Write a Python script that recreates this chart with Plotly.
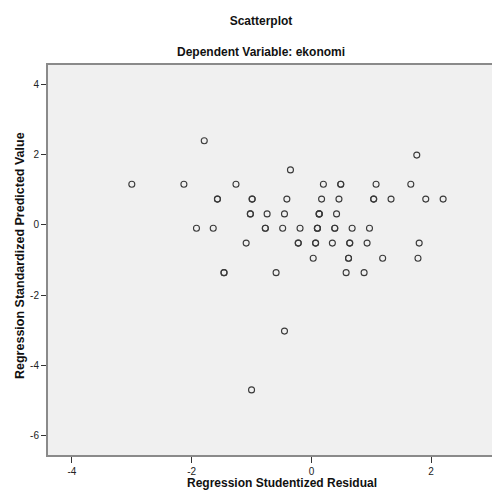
import plotly.graph_objects as go

# Regression Studentized Residual (x) and Regression Standardized Predicted Value (y)
x_resid = [
    -1.79,
    1.76,
    -0.35,
    -3.00, -2.13, -1.26, 0.20, 0.49, 0.49, 1.08, 1.66,
    -1.57, -1.57, -0.99, -0.99, -0.41, 0.17, 0.46, 1.04, 1.04, 1.33, 1.91, 2.20,
    -1.02, -1.02, -0.74, -0.45, 0.13, 0.13, 0.13, 0.42,
    -1.92, -1.64, -0.77, -0.77, -0.48, -0.19, 0.10, 0.10, 0.10, 0.39, 0.39, 0.68, 0.97,
    -1.09, -0.22, -0.22, 0.07, 0.07, 0.35, 0.64, 0.64, 0.93, 1.80,
    0.03, 0.62, 0.62, 1.19, 1.78,
    -1.46, -1.46, -0.59, 0.58, 0.88,
    -0.45,
    -1.00,
]
y_pred = [
    2.39,
    1.98,
    1.56,
    1.15, 1.15, 1.15, 1.15, 1.15, 1.15, 1.15, 1.15,
    0.73, 0.73, 0.73, 0.73, 0.73, 0.73, 0.73, 0.73, 0.73, 0.73, 0.73, 0.73,
    0.31, 0.31, 0.31, 0.31, 0.31, 0.31, 0.31, 0.31,
    -0.10, -0.10, -0.10, -0.10, -0.10, -0.10, -0.10, -0.10, -0.10, -0.10, -0.10, -0.10, -0.10,
    -0.52, -0.52, -0.52, -0.52, -0.52, -0.52, -0.52, -0.52, -0.52, -0.52,
    -0.95, -0.95, -0.95, -0.95, -0.95,
    -1.36, -1.36, -1.36, -1.36, -1.36,
    -3.02,
    -4.69,
]

x_ticks = [-4, -2, 0, 2]
y_ticks = [-6, -4, -2, 0, 2, 4]

FONT = "Liberation Sans, Arial, sans-serif"

# page body adds an 8px offset; figure coordinates compensate for it
W, H = 492, 493

fig = go.Figure()
fig.add_trace(go.Scatter(
    x=x_resid, y=y_pred, mode="markers",
    marker=dict(symbol="circle-open", size=6, color="#3a3a3a",
                line=dict(width=1.1, color="#3a3a3a")),
    showlegend=False, hoverinfo="x+y",
))

fig.update_layout(
    width=W, height=H,
    margin=dict(l=40, r=0, t=57, b=46),
    paper_bgcolor="white", plot_bgcolor="#f0f0f0",
    font=dict(family=FONT, color="#111"),
    title=dict(text="<b>Scatterplot</b>", x=(261 - 8) / W, xanchor="center",
               y=1 - (20.7 - 8) / H, yanchor="middle", yref="container",
               font=dict(size=12, family=FONT, color="#111")),
    xaxis=dict(range=[-4.40, 3.15], tickvals=x_ticks, ticktext=[str(v) for v in x_ticks],
               showgrid=False, zeroline=False, showline=True, mirror=True,
               linecolor="#8a8a8a", linewidth=2, ticks="outside", ticklen=6,
               tickcolor="#333", tickwidth=1, tickfont=dict(size=10, color="#222"),
               fixedrange=True),
    yaxis=dict(range=[-6.54, 4.54], tickvals=y_ticks, ticktext=[str(v) for v in y_ticks],
               showgrid=False, zeroline=False, showline=True, mirror=False,
               linecolor="#8a8a8a", linewidth=2, ticks="outside", ticklen=5,
               tickcolor="#333", tickwidth=1, tickfont=dict(size=10, color="#222"),
               fixedrange=True),
    annotations=[
        dict(text="<b>Dependent Variable: ekonomi</b>", xref="paper", yref="paper",
             x=(260.5 - 48) / 452, y=(455 - 51.7) / 390, showarrow=False,
             xanchor="center", yanchor="middle", font=dict(size=12, family=FONT, color="#111")),
        dict(text="<b>Regression Studentized Residual</b>", xref="paper", yref="paper",
             x=(281.5 - 48) / 452, y=(455 - 483) / 390, showarrow=False,
             xanchor="center", yanchor="middle", font=dict(size=12, family=FONT, color="#111")),
        dict(text="<b>Regression Standardized Predicted Value</b>", xref="paper", yref="paper",
             x=(20 - 48) / 452, y=(455 - 256) / 390, showarrow=False, textangle=-90,
             xanchor="center", yanchor="middle", font=dict(size=12.5, family=FONT, color="#111")),
    ],
)

fig.write_html("out.html")
